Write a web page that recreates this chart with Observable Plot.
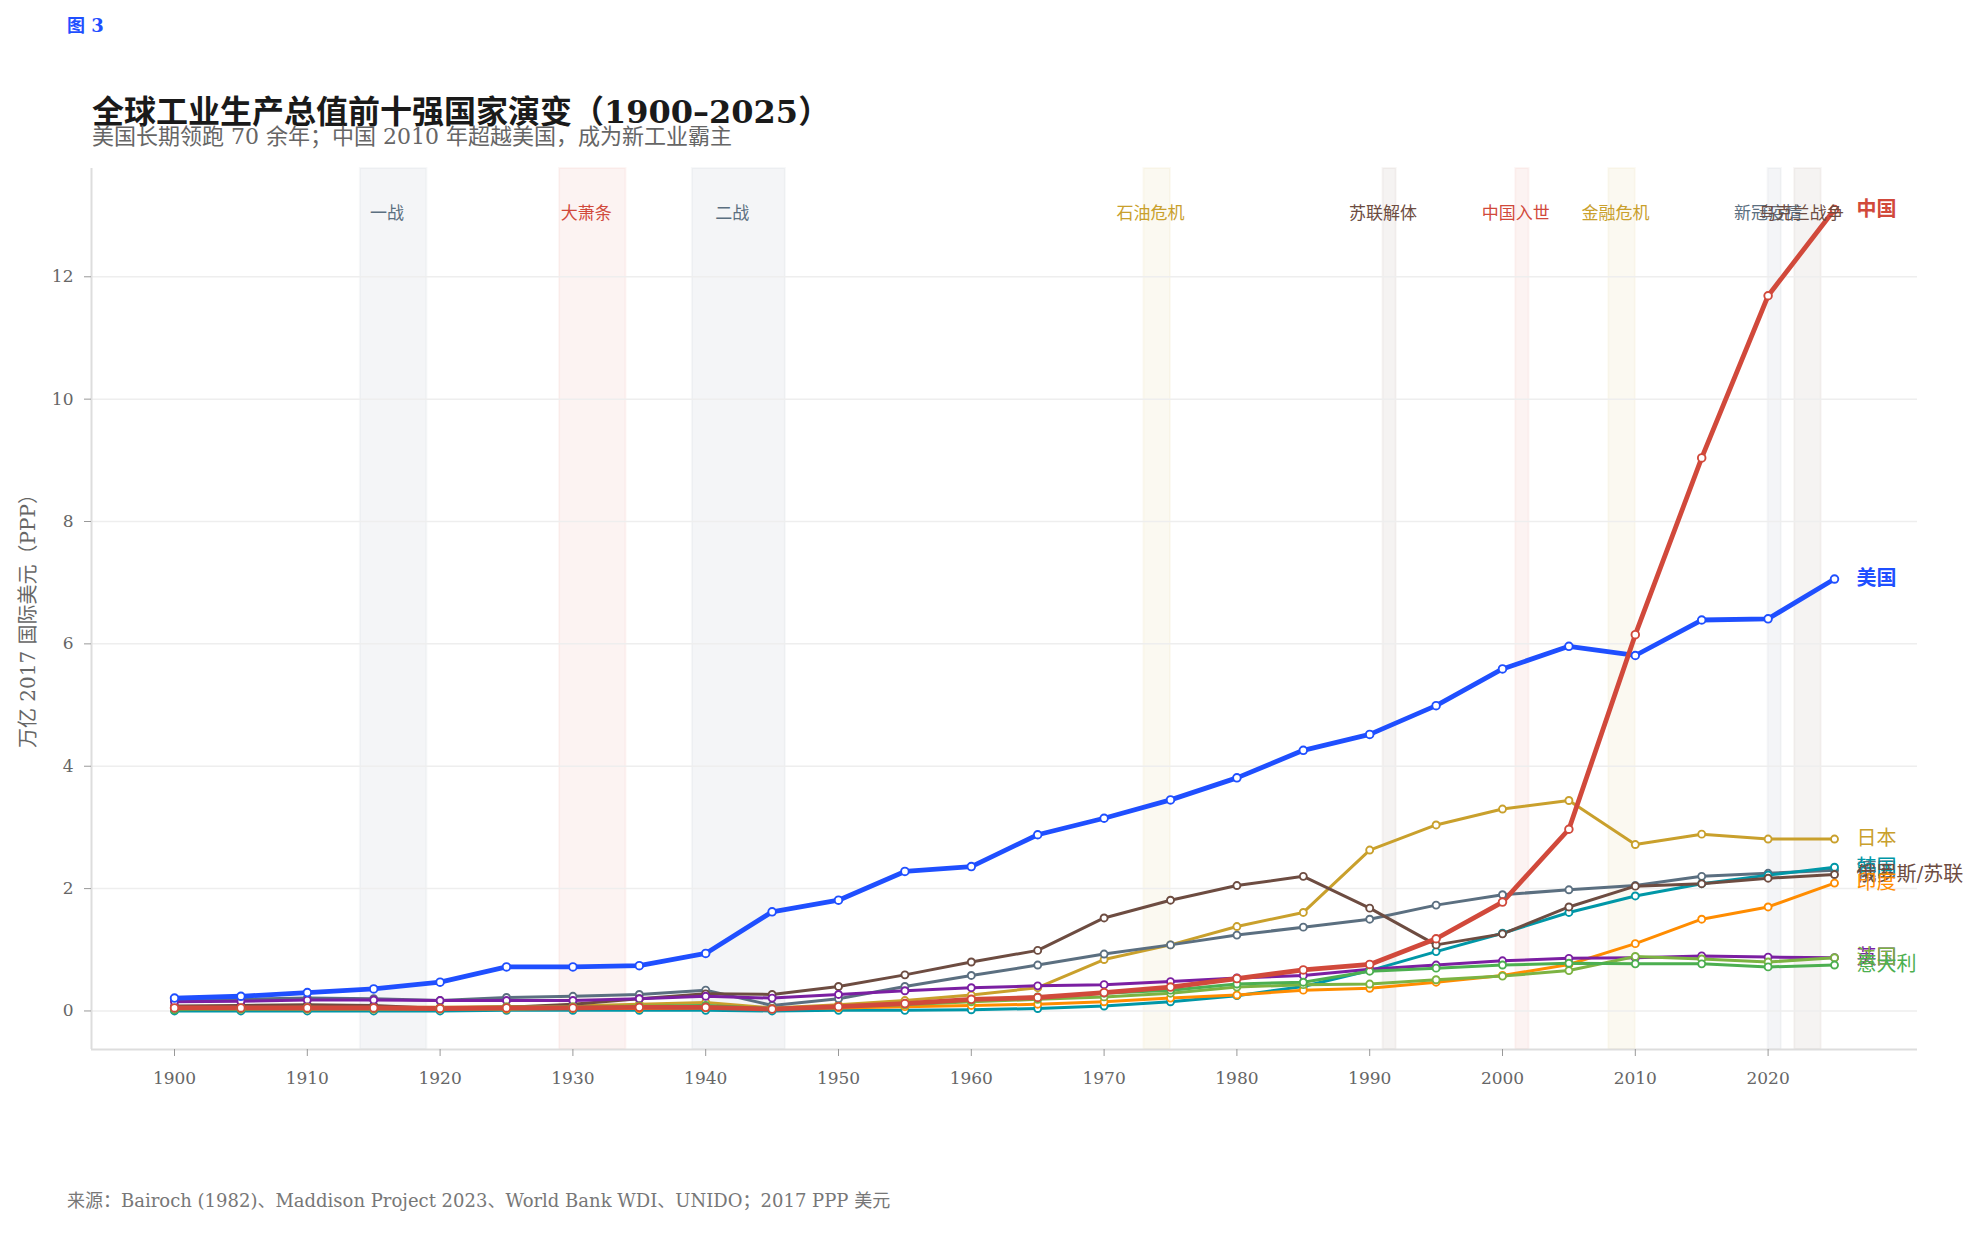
<!DOCTYPE html>
<html>
<head>
<meta charset="utf-8">
<script src="https://cdn.jsdelivr.net/npm/d3@7"></script>
<script src="https://cdn.jsdelivr.net/npm/@observablehq/plot@0.6"></script>
<style>
  html, body { margin: 0; padding: 0; background: #fff; }
  body { width: 1984px; height: 1233px; overflow: hidden;
         font-family: "DejaVu Serif", "Noto Sans CJK SC", serif; }
  #page { position: relative; width: 1984px; height: 1233px; }
  .fig { position: absolute; left: 67px; top: 17px; font-size: 18px; font-weight: bold;
         color: #1f4fff; line-height: 1; }
  .title { position: absolute; left: 92px; top: 96px; font-size: 32px; font-weight: bold;
           color: #1a1a1a; line-height: 1; white-space: nowrap; }
  .subtitle { position: absolute; left: 92px; top: 126px; font-size: 22px; color: #666;
              line-height: 1; white-space: nowrap; }
  .ylabel { position: absolute; left: 28px; top: 616px; font-size: 20px; color: #666;
            white-space: nowrap; transform: translate(-50%, -50%) rotate(-90deg); line-height: 1; }
  .caption { position: absolute; left: 67px; top: 1192px; font-size: 18px; color: #777;
             line-height: 1; white-space: nowrap; }
  #chart { position: absolute; left: 0; top: 140px; }
</style>
</head>
<body>
<div id="page">
  <div class="fig">图 3</div>
  <div class="title">全球工业生产总值前十强国家演变（1900–2025）</div>
  <div class="subtitle">美国长期领跑 70 余年；中国 2010 年超越美国，成为新工业霸主</div>
  <div class="ylabel">万亿 2017 国际美元（PPP）</div>
  <div id="chart"></div>
  <div class="caption">来源：Bairoch (1982)、Maddison Project 2023、World Bank WDI、UNIDO；2017 PPP 美元</div>
</div>
<script>
// Industrial output, trillion 2017 international dollars (PPP), every 5 years
const years = [1900, 1905, 1910, 1915, 1920, 1925, 1930, 1935, 1940, 1945, 1950, 1955, 1960,
               1965, 1970, 1975, 1980, 1985, 1990, 1995, 2000, 2005, 2010, 2015, 2020, 2025];

const china   = [0.05, 0.05, 0.05, 0.05, 0.04, 0.05, 0.05, 0.06, 0.06, 0.03, 0.07, 0.12, 0.19,
                 0.22, 0.30, 0.39, 0.53, 0.67, 0.76, 1.18, 1.78, 2.97, 6.15, 9.04, 11.69, 13.10];
const usa     = [0.21, 0.24, 0.30, 0.36, 0.47, 0.72, 0.72, 0.74, 0.94, 1.62, 1.81, 2.28, 2.36,
                 2.88, 3.15, 3.45, 3.81, 4.26, 4.52, 4.99, 5.59, 5.96, 5.81, 6.39, 6.41, 7.06];
const japan   = [0.02, 0.03, 0.04, 0.06, 0.06, 0.07, 0.08, 0.11, 0.14, 0.05, 0.10, 0.17, 0.26,
                 0.38, 0.84, 1.08, 1.38, 1.61, 2.63, 3.04, 3.30, 3.44, 2.72, 2.89, 2.81, 2.81];
const germany = [0.17, 0.19, 0.21, 0.20, 0.17, 0.22, 0.24, 0.27, 0.34, 0.09, 0.20, 0.40, 0.58,
                 0.75, 0.93, 1.08, 1.24, 1.37, 1.50, 1.73, 1.90, 1.98, 2.05, 2.20, 2.25, 2.30];
const russia  = [0.08, 0.09, 0.10, 0.09, 0.04, 0.06, 0.11, 0.20, 0.28, 0.27, 0.40, 0.59, 0.80,
                 0.99, 1.52, 1.81, 2.05, 2.20, 1.68, 1.08, 1.26, 1.70, 2.04, 2.08, 2.17, 2.23];
const korea   = [0.00, 0.00, 0.00, 0.00, 0.00, 0.01, 0.01, 0.01, 0.01, 0.00, 0.01, 0.01, 0.02,
                 0.04, 0.08, 0.15, 0.25, 0.40, 0.66, 0.97, 1.27, 1.61, 1.88, 2.08, 2.22, 2.35];
const india   = [0.03, 0.03, 0.03, 0.03, 0.03, 0.03, 0.04, 0.04, 0.05, 0.04, 0.05, 0.07, 0.09,
                 0.11, 0.15, 0.21, 0.26, 0.34, 0.37, 0.47, 0.58, 0.76, 1.10, 1.50, 1.70, 2.09];
const uk      = [0.15, 0.16, 0.18, 0.18, 0.17, 0.17, 0.17, 0.20, 0.24, 0.21, 0.27, 0.33, 0.38,
                 0.41, 0.43, 0.48, 0.54, 0.58, 0.68, 0.75, 0.82, 0.86, 0.87, 0.90, 0.88, 0.87];
const france  = [0.04, 0.05, 0.06, 0.05, 0.05, 0.07, 0.07, 0.08, 0.08, 0.03, 0.07, 0.10, 0.15,
                 0.19, 0.23, 0.29, 0.39, 0.43, 0.44, 0.51, 0.57, 0.66, 0.89, 0.85, 0.80, 0.87];
const italy   = [0.02, 0.03, 0.04, 0.04, 0.04, 0.05, 0.05, 0.07, 0.09, 0.04, 0.07, 0.12, 0.18,
                 0.23, 0.29, 0.34, 0.44, 0.47, 0.65, 0.70, 0.75, 0.78, 0.77, 0.77, 0.72, 0.75];

// Series names and their values, listed in drawing order (last drawn on top)
const seriesNames  = ["日本", "德国", "韩国", "俄罗斯/苏联", "印度", "英国", "法国", "意大利", "美国", "中国"];
const seriesValues = [japan, germany, korea, russia, india, uk, france, italy, usa, china];

// Historical events (inclusive year ranges)
const eventNames = ["一战", "大萧条", "二战", "石油危机", "苏联解体", "中国入世", "金融危机", "新冠疫情", "乌克兰战争"];
const eventStart = [1914, 1929, 1939, 1973, 1991, 2001, 2008, 2020, 2022];
const eventEnd   = [1918, 1933, 1945, 1974, 1991, 2001, 2009, 2020, 2023];

// Axis ticks
const yTicks = [0, 2, 4, 6, 8, 10, 12];
const xTicks = [1900, 1910, 1920, 1930, 1940, 1950, 1960, 1970, 1980, 1990, 2000, 2010, 2020];

// Styling
const seriesColor = {
  "中国": "#d1493b", "美国": "#1f4fff", "日本": "#c9a02c", "德国": "#5b6f80",
  "俄罗斯/苏联": "#6d4c41", "韩国": "#0097a7", "印度": "#ff8c00", "英国": "#7b1fa2",
  "法国": "#7cb342", "意大利": "#4caf50"
};
const eventColor = {
  "一战": "#5b6f80", "大萧条": "#d1493b", "二战": "#5b6f80", "石油危机": "#c9a02c",
  "苏联解体": "#6d4c41", "中国入世": "#d1493b", "金融危机": "#c9a02c", "新冠疫情": "#5b6f80",
  "乌克兰战争": "#6d4c41"
};
const leaders = new Set(["中国", "美国"]);

const series = seriesNames.map((name, i) => ({
  name,
  rows: years.map((year, j) => ({year, value: seriesValues[i][j], name}))
}));
const events = eventNames.map((name, i) => ({
  name, start: eventStart[i], end: eventEnd[i]
}));

const xDomain = [1893.75, 2031.25];
const yDomain = [-0.63, 13.77];

const marks = [];

// Event bands spanning whole years
for (const e of events) {
  marks.push(Plot.rect([e], {
    x1: "start", x2: d => d.end + 1,
    fill: eventColor[e.name], fillOpacity: 0.065,
    stroke: eventColor[e.name], strokeOpacity: 0.05, strokeWidth: 2
  }));
}

marks.push(
  Plot.gridY(yTicks, {stroke: "#eeeeee", strokeOpacity: 1, strokeWidth: 1.5}),
  Plot.ruleX([xDomain[0]], {stroke: "#dddddd", strokeWidth: 2}),
  Plot.ruleY([yDomain[0]], {stroke: "#dddddd", strokeWidth: 2}),
  Plot.axisY(yTicks, {
    tickSize: 7, tickPadding: 11, stroke: "#999", fill: "#666", label: null,
    tickFormat: d => String(d), fontSize: 17
  }),
  Plot.axisX(xTicks, {
    tickSize: 7, tickPadding: 15, stroke: "#999", fill: "#666", label: null,
    tickFormat: d => String(d), fontSize: 17
  })
);

// Lines first, then markers, so every marker sits above the lines
for (const s of series) {
  marks.push(Plot.line(s.rows, {
    x: "year", y: "value",
    stroke: seriesColor[s.name],
    strokeWidth: leaders.has(s.name) ? 4.8 : 3,
    strokeLinejoin: "round", strokeLinecap: "round"
  }));
}
for (const s of series) {
  marks.push(Plot.dot(s.rows, {
    x: "year", y: "value",
    r: leaders.has(s.name) ? 3.8 : 3.5,
    fill: "white",
    stroke: seriesColor[s.name],
    strokeWidth: 1.9
  }));
}

// Country names at the end of each line
for (const s of series) {
  const last = s.rows[s.rows.length - 1];
  marks.push(Plot.text([last], {
    x: "year", y: "value", text: "name",
    dx: 22, textAnchor: "start",
    fill: seriesColor[s.name],
    fontSize: 20,
    fontWeight: leaders.has(s.name) ? "bold" : "normal"
  }));
}

// Event names near the top of the frame
for (const e of events) {
  marks.push(Plot.text([e], {
    x: d => (d.start + d.end) / 2,
    text: "name",
    frameAnchor: "top", dy: 38,
    fill: eventColor[e.name],
    fontSize: 17, fontWeight: "normal"
  }));
}

const chart = Plot.plot({
  width: 1984,
  height: 960,
  marginTop: 28,
  marginBottom: 51,
  marginLeft: 91,
  marginRight: 67,
  style: {
    fontFamily: '"DejaVu Serif", "Noto Sans CJK SC", serif',
    fontSize: "17px",
    color: "#666",
    background: "transparent"
  },
  x: {domain: xDomain, label: null},
  y: {domain: yDomain, label: null},
  marks
});

document.getElementById("chart").appendChild(chart);
</script>
</body>
</html>
